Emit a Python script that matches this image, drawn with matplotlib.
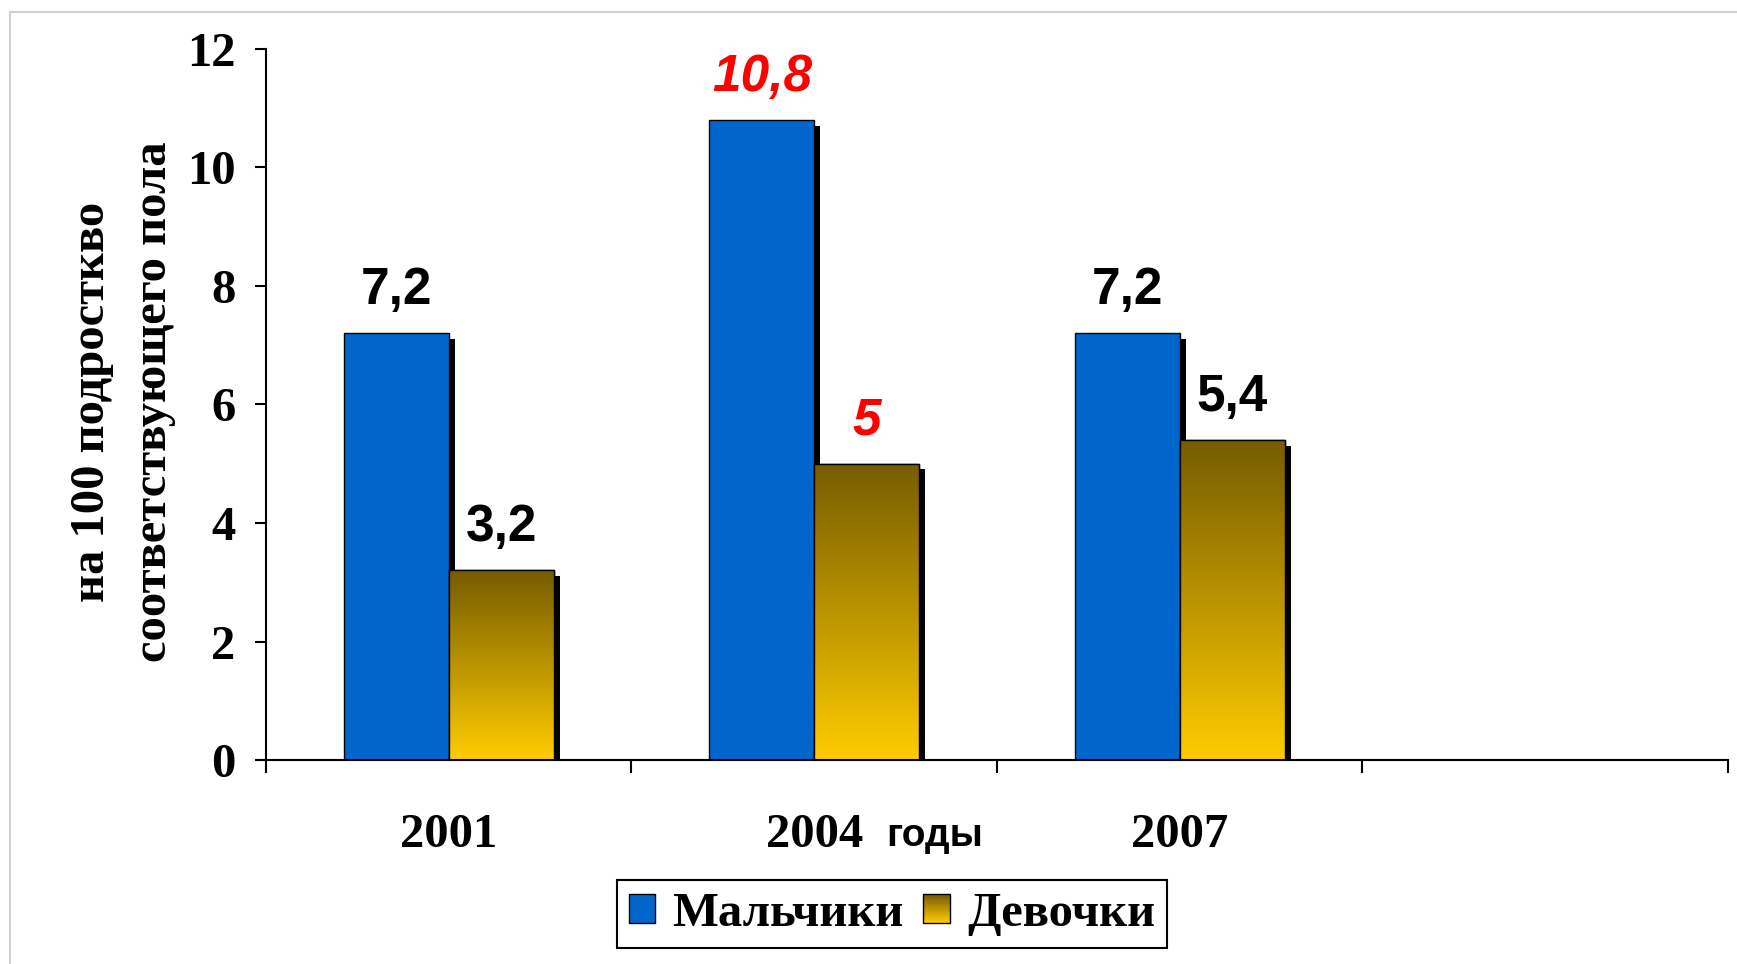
import numpy as np
import matplotlib.pyplot as plt
import matplotlib.patheffects as pe
from matplotlib.colors import LinearSegmentedColormap
from matplotlib.patches import Rectangle
from matplotlib.legend_handler import HandlerBase
from matplotlib.lines import Line2D

# data
years = ['2001', '2004', '2007', '']
boys = [7.2, 10.8, 7.2]
girls = [3.2, 5.0, 5.4]
boys_labels = ['7,2', '10,8', '7,2']
girls_labels = ['3,2', '5', '5,4']
highlight = [False, True, False]  # 2004 values are red italic
series_names = ['Мальчики', 'Девочки']
y_ticks = [0, 2, 4, 6, 8, 10, 12]
y_title = 'на 100 подросткво\nсоответствующего пола'

BLUE = '#0066CC'
GOLD_TOP = '#765C00'
GOLD_BOTTOM = '#FFCC00'
gold_cmap = LinearSegmentedColormap.from_list('gold', [GOLD_BOTTOM, GOLD_TOP])

SERIF = 'Liberation Serif'
SANS = 'Liberation Sans'

fig = plt.figure(figsize=(17.37, 9.64), dpi=100)
ax = fig.add_axes([0.1531, 0.2116, 0.8417, 0.7376])

x = np.arange(len(years))
w = 0.287
shadow = [pe.SimplePatchShadow(offset=(4.5, -4), shadow_rgbFace='black', alpha=1.0), pe.Normal()]

bb = ax.bar(x[:3] - w / 2, boys, w, color=BLUE, edgecolor='black', linewidth=1, zorder=2)
gb = ax.bar(x[:3] + w / 2, girls, w, color=GOLD_BOTTOM, edgecolor='black', linewidth=1, zorder=2)
for r in list(bb) + list(gb):
    r.set_path_effects(shadow)

# gradient fill of the girls bars
grad = np.linspace(0, 1, 256).reshape(-1, 1)
for r in gb:
    x0, h = r.get_x(), r.get_height()
    im = ax.imshow(grad, cmap=gold_cmap, origin='lower', aspect='auto',
                   extent=(x0, x0 + w, 0, h), zorder=2.5, interpolation='bilinear')
    im.set_clip_path(r)
    ax.add_patch(Rectangle((x0, 0), w, h, fill=False, edgecolor='black', linewidth=1, zorder=3))

# value labels
for i in range(3):
    st = dict(color='red', fontstyle='italic') if highlight[i] else dict(color='black')
    ax.annotate(boys_labels[i], (x[i] - w / 2, boys[i]), xytext=(0, 21), textcoords='offset points',
                ha='center', va='baseline', fontsize=37, fontweight='bold', family=SANS, **st)
    ax.annotate(girls_labels[i], (x[i] + w / 2, girls[i]), xytext=(0, 21), textcoords='offset points',
                ha='center', va='baseline', fontsize=37, fontweight='bold', family=SANS, **st)

ax.set_xlim(-0.5, 3.5)
ax.set_ylim(0, 12)
ax.set_yticks(y_ticks)
ax.set_xticks(x)
ax.set_xticklabels(years)
ax.set_xticks(np.arange(-0.5, 4, 1), minor=True)
ax.tick_params(axis='x', which='major', length=0, pad=38)
ax.tick_params(axis='x', which='minor', length=9, width=1.5, direction='out')
ax.tick_params(axis='y', length=8, width=1.5, pad=14)
for lab in ax.get_xticklabels() + ax.get_yticklabels():
    lab.set_fontfamily(SERIF)
    lab.set_fontweight('bold')
    lab.set_fontsize(35)
ax.spines[['top', 'right']].set_visible(False)
ax.spines['left'].set_linewidth(1.5)
ax.spines['bottom'].set_linewidth(1.5)

fig.text(886 / 1737, 1 - 846 / 964, 'годы', family=SANS, fontweight='bold', fontsize=28,
         ha='left', va='baseline')
fig.text(123 / 1737, 0.583, y_title, rotation=90, ha='center', va='center', multialignment='center',
         family=SERIF, fontweight='bold', fontsize=35, linespacing=1.52)


class GradientHandler(HandlerBase):
    def create_artists(self, legend, orig_handle, xdescent, ydescent, width, height, fontsize, trans):
        n = 24
        arts = []
        for k in range(n):
            arts.append(Rectangle((-xdescent, -ydescent + k * height / n), width, height / n + 0.3,
                                  facecolor=gold_cmap(k / (n - 1)), edgecolor='none', transform=trans))
        arts.append(Rectangle((-xdescent, -ydescent), width, height, fill=False,
                              edgecolor='black', linewidth=1, transform=trans))
        return arts


boy_h = Rectangle((0, 0), 1, 1, facecolor=BLUE, edgecolor='black', linewidth=1)
girl_h = Rectangle((0, 0), 1, 1, facecolor=GOLD_BOTTOM, edgecolor='black', linewidth=1)
leg = fig.legend([boy_h, girl_h], series_names, loc='center', bbox_to_anchor=(0.5135, 0.0519), ncol=2,
                 frameon=True, fancybox=False, edgecolor='black', framealpha=1,
                 prop=dict(family=SERIF, weight='bold', size=35),
                 handlelength=0.55, handleheight=0.55, handletextpad=0.35, columnspacing=0.4,
                 borderpad=0.25, borderaxespad=0, handler_map={girl_h: GradientHandler()})
leg.get_frame().set_linewidth(1.5)

# light outer frame
fig.add_artist(Line2D([10 / 1737, 1], [1 - 12 / 964] * 2, transform=fig.transFigure, color='#d0d0d0', lw=1.5))
fig.add_artist(Line2D([10 / 1737] * 2, [0, 1 - 12 / 964], transform=fig.transFigure, color='#d0d0d0', lw=1.5))

fig.savefig('out.png', dpi=100)
